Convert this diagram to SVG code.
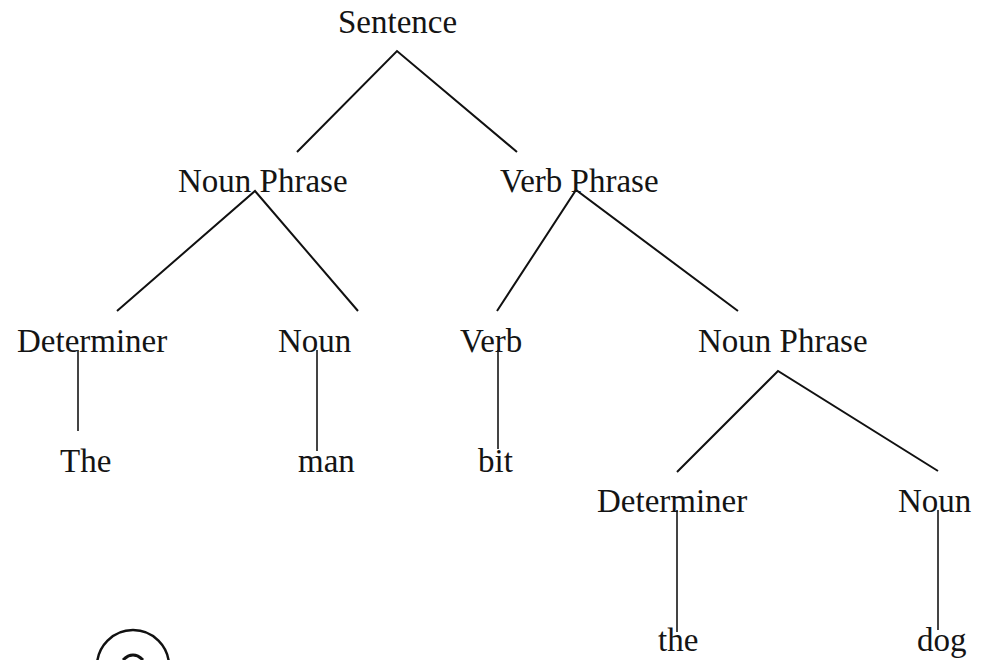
<svg xmlns="http://www.w3.org/2000/svg" width="988" height="660" viewBox="0 0 988 660">
<style>
  text { font-family: "Liberation Serif", "Times New Roman", serif; font-size: 33px; fill: #141414; }
  .edge { stroke: #111; stroke-width: 2; fill: none; }
  .stem { stroke: #444; stroke-width: 2; fill: none; }
</style>
<rect width="988" height="660" fill="#fff"/>
<g id="connectors">
  <path class="edge" d="M297,152 L397,51 L517,152"/>
  <path class="edge" d="M117,311 L255,191 L358,311"/>
  <path class="edge" d="M497,311 L576,190 L738,311"/>
  <path class="edge" d="M677,472 L778,371 L938,471"/>
  <line class="stem" x1="78" y1="350" x2="78" y2="431"/>
  <line class="stem" x1="317" y1="350" x2="317" y2="451"/>
  <line class="stem" x1="498" y1="350" x2="498" y2="449"/>
  <line class="stem" x1="677" y1="510" x2="677" y2="632"/>
  <line class="stem" x1="938" y1="510" x2="938" y2="630"/>
</g>
<g id="n-sentence"><text x="338" y="33">Sentence</text></g>
<g id="n-np1"><text x="178" y="192">Noun Phrase</text></g>
<g id="n-vp"><text x="500" y="192">Verb Phrase</text></g>
<g id="n-det1"><text x="17" y="352">Determiner</text></g>
<g id="n-noun1"><text x="278" y="352">Noun</text></g>
<g id="n-verb"><text x="460" y="352">Verb</text></g>
<g id="n-np2"><text x="698" y="352">Noun Phrase</text></g>
<g id="n-the1"><text x="60" y="472">The</text></g>
<g id="n-man"><text x="298" y="472">man</text></g>
<g id="n-bit"><text x="478" y="472">bit</text></g>
<g id="n-det2"><text x="597" y="512">Determiner</text></g>
<g id="n-noun2"><text x="898" y="512">Noun</text></g>
<g id="n-the2"><text x="658" y="651">the</text></g>
<g id="n-dog"><text x="917" y="651">dog</text></g>
<g id="badge">
  <circle cx="133" cy="666" r="36" fill="none" stroke="#111" stroke-width="2.5"/>
  <path d="M123,660 Q133,650 143,660" fill="none" stroke="#111" stroke-width="3"/>
</g>
</svg>
